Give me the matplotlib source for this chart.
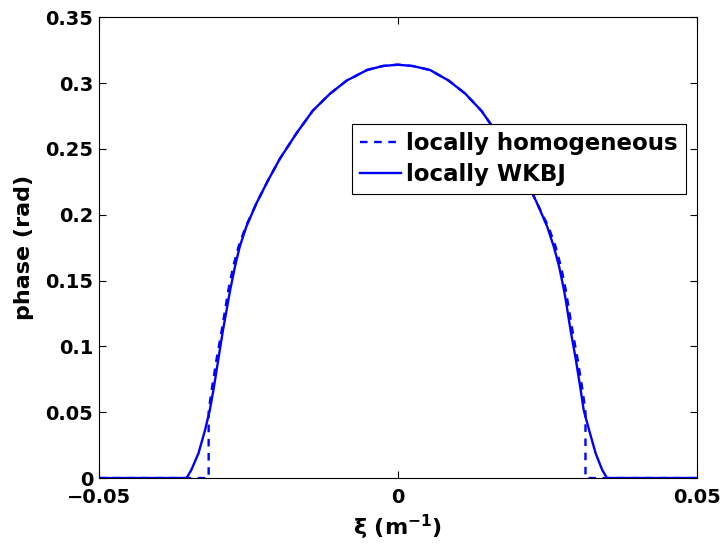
import numpy as np
import matplotlib
matplotlib.use("Agg")
import matplotlib.pyplot as plt

# --- Data ---
# locally WKBJ (solid line)
xi_wkbj = [-0.05, -0.0353, -0.0345, -0.0333, -0.0322, -0.0314, -0.0308, -0.0300,
           -0.0292, -0.0283, -0.0280, -0.0272, -0.0264, -0.0253, -0.0236, -0.0218,
           -0.0197, -0.0169, -0.0142, -0.0113, -0.0085, -0.0051, -0.0025, 0.0,
           0.0025, 0.0054, 0.0085, 0.0113, 0.0140, 0.0166, 0.0195, 0.0216, 0.0233,
           0.0250, 0.0261, 0.0270, 0.0278, 0.0281, 0.0289, 0.0298, 0.0306, 0.0311,
           0.0320, 0.0331, 0.0342, 0.0350, 0.05]
phase_wkbj = [0.0, 0.0, 0.0061, 0.0188, 0.0365, 0.0517, 0.0669, 0.0897,
              0.1125, 0.1353, 0.1429, 0.1606, 0.1758, 0.1910, 0.2088, 0.2250,
              0.2425, 0.262, 0.279, 0.292, 0.302, 0.310, 0.3130, 0.3140,
              0.3130, 0.310, 0.302, 0.292, 0.279, 0.262, 0.2425, 0.2250, 0.2088,
              0.1910, 0.1758, 0.1606, 0.1429, 0.1353, 0.1125, 0.0897, 0.0669, 0.0517,
              0.0365, 0.0188, 0.0061, 0.0, 0.0]

# locally homogeneous (dashed line)
xi_hom = [-0.05, -0.0316, -0.0316, -0.0315, -0.0311, -0.0303, -0.0294, -0.0283,
          -0.0275, -0.0266, -0.0254, -0.0236, -0.0218, -0.0197, -0.0169, -0.0142,
          -0.0113, -0.0085, -0.0051, -0.0025, 0.0, 0.0025, 0.0054, 0.0085, 0.0113,
          0.0140, 0.0166, 0.0195, 0.0216, 0.0233, 0.0252, 0.0264, 0.0273, 0.0281,
          0.0292, 0.0301, 0.0309, 0.0313, 0.0314, 0.0314, 0.05]
phase_hom = [0.0, 0.0, 0.050, 0.0540, 0.0669, 0.0897, 0.1125, 0.1429,
             0.1606, 0.1758, 0.1910, 0.2088, 0.2250, 0.2425, 0.262, 0.279,
             0.292, 0.302, 0.310, 0.3130, 0.3140, 0.3130, 0.310, 0.302, 0.292,
             0.279, 0.262, 0.2425, 0.2250, 0.2088, 0.1910, 0.1758, 0.1606, 0.1429,
             0.1125, 0.0897, 0.0669, 0.0540, 0.050, 0.0, 0.0]

x_ticks = [-0.05, 0, 0.05]
x_tick_labels = ["\u22120.05", "0", "0.05"]
y_ticks = [0, 0.05, 0.1, 0.15, 0.2, 0.25, 0.3, 0.35]
y_tick_labels = ["0", "0.05", "0.1", "0.15", "0.2", "0.25", "0.3", "0.35"]

# --- Style ---
plt.rcParams['font.family'] = ['DejaVu Sans']
plt.rcParams['font.weight'] = 'bold'
plt.rcParams['mathtext.fontset'] = 'custom'
plt.rcParams['mathtext.rm'] = 'DejaVu Sans:bold'
plt.rcParams['mathtext.it'] = 'DejaVu Sans:bold'
plt.rcParams['mathtext.bf'] = 'DejaVu Sans:bold'

TICK_FS = 14
LABEL_FS = 16
LEGEND_FS = 16.5
BLUE = '#0000ff'

fig = plt.figure(figsize=(7.25, 5.46), dpi=100)
ax = fig.add_axes([0.136, 0.1245, 0.825, 0.8438])

ax.plot(xi_hom, phase_hom, color=BLUE, linewidth=1.7,
        linestyle=(0, (3.2, 2.8)), label='locally homogeneous')
ax.plot(xi_wkbj, phase_wkbj, color=BLUE, linewidth=1.7,
        label='locally WKBJ')

ax.set_xlim(-0.05, 0.05)
ax.set_ylim(0, 0.35)
ax.set_xticks(x_ticks)
ax.set_xticklabels(x_tick_labels)
ax.set_yticks(y_ticks)
ax.set_yticklabels(y_tick_labels)
ax.tick_params(direction='in', length=5, width=0.8, top=True, right=True,
               labelsize=TICK_FS)
ax.tick_params(axis='y', pad=4)
ax.tick_params(axis='x', pad=7)
for sp in ax.spines.values():
    sp.set_linewidth(0.8)

ax.set_xlabel(r'ξ (m$^{-1}$)', fontsize=LABEL_FS, fontweight='bold', labelpad=4)
ax.set_ylabel('phase (rad)', fontsize=LABEL_FS, fontweight='bold', labelpad=8)

leg = ax.legend(loc='upper right', bbox_to_anchor=(0.982, 0.768),
                fontsize=LEGEND_FS, frameon=True, fancybox=False, framealpha=1,
                edgecolor='black', handlelength=1.75, handletextpad=0.25,
                borderpad=0.35, labelspacing=0.35, borderaxespad=0)
leg.get_frame().set_linewidth(0.8)

fig.savefig('out.png', dpi=100)
